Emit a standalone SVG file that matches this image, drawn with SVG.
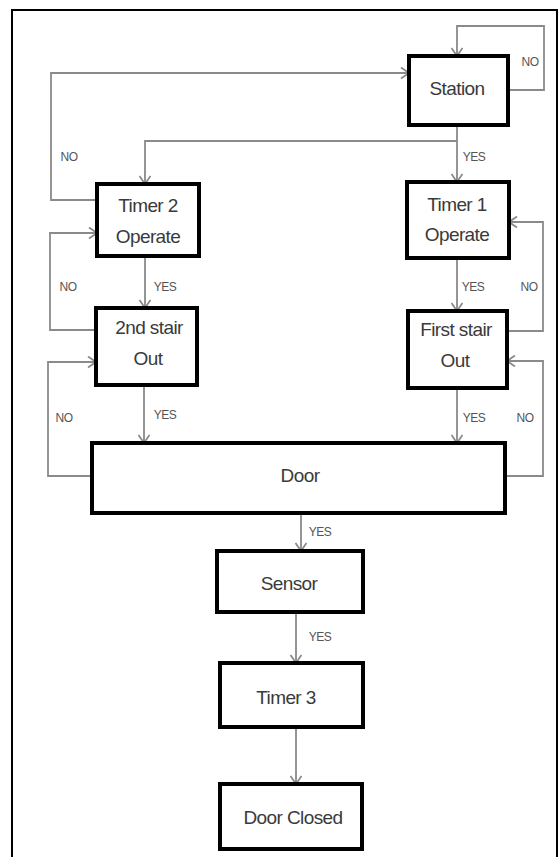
<svg xmlns="http://www.w3.org/2000/svg" width="560" height="857" viewBox="0 0 560 857">
<style>
.box{fill:#ffffff;stroke:#000;stroke-width:4}
.t{font-family:"Liberation Sans",Arial,sans-serif;font-size:19px;fill:#3a3a3a;text-anchor:middle;dominant-baseline:central;letter-spacing:-0.6px}
.l{font-family:"Liberation Sans",Arial,sans-serif;font-size:12px;fill:#555;text-anchor:middle;dominant-baseline:central;letter-spacing:-0.5px}
.c{fill:none;stroke:#8a8a8a;stroke-width:1.8}
.a{marker-end:url(#arr)}
</style>
<defs>
<marker id="arr" markerUnits="userSpaceOnUse" markerWidth="14" markerHeight="14" refX="9" refY="6" orient="auto">
<path d="M1,0.5 L9,6 L1,11.5" fill="none" stroke="#8a8a8a" stroke-width="1.8"/>
</marker>
</defs>
<rect x="12" y="10" width="545" height="870" fill="#fff" stroke="#000" stroke-width="2"/>
<g id="connectors">
<polyline class="c a" points="508,90 544,90 544,26 457,26 457,56"/>
<polyline class="c a" points="97,200 51,200 51,73 409,73"/>
<polyline class="c a" points="457,125 457,182"/>
<polyline class="c a" points="457,141 145,141 145,184"/>
<polyline class="c a" points="145,256 145,308"/>
<polyline class="c a" points="96,330 50,330 50,233 97,233"/>
<polyline class="c a" points="457,258 457,311"/>
<polyline class="c a" points="507,331 543,331 543,222 509,222"/>
<polyline class="c a" points="144,385 144,443"/>
<polyline class="c a" points="457,388 457,443"/>
<polyline class="c a" points="92,476 48,476 48,362 96,362"/>
<polyline class="c a" points="505,476 543,476 543,361 507,361"/>
<polyline class="c a" points="301,513 301,551"/>
<polyline class="c a" points="296,612 296,663"/>
<polyline class="c a" points="296,727 296,784"/>
<text class="l" x="530" y="62">NO</text>
<text class="l" x="69" y="157">NO</text>
<text class="l" x="474" y="157">YES</text>
<text class="l" x="165" y="287">YES</text>
<text class="l" x="68" y="287">NO</text>
<text class="l" x="473" y="287">YES</text>
<text class="l" x="529" y="287">NO</text>
<text class="l" x="165" y="415">YES</text>
<text class="l" x="64" y="418">NO</text>
<text class="l" x="474" y="418">YES</text>
<text class="l" x="525" y="418">NO</text>
<text class="l" x="320" y="532">YES</text>
<text class="l" x="320" y="637">YES</text>
</g>
<g id="station"><rect class="box" x="409" y="56" width="99" height="69"/><text class="t" x="457" y="88">Station</text></g>
<g id="timer2"><rect class="box" x="97" y="184" width="102" height="72"/><text class="t" x="148" y="205">Timer 2</text><text class="t" x="148" y="236">Operate</text></g>
<g id="timer1"><rect class="box" x="407" y="182" width="102" height="76"/><text class="t" x="457" y="204">Timer 1</text><text class="t" x="457" y="234">Operate</text></g>
<g id="stair2"><rect class="box" x="96" y="308" width="101" height="77"/><text class="t" x="149" y="327">2nd stair</text><text class="t" x="148" y="358">Out</text></g>
<g id="stair1"><rect class="box" x="408" y="311" width="99" height="77"/><text class="t" x="456" y="329">First stair</text><text class="t" x="455" y="360">Out</text></g>
<g id="door"><rect class="box" x="92" y="443" width="413" height="70"/><text class="t" x="300" y="475">Door</text></g>
<g id="sensor"><rect class="box" x="217" y="551" width="146" height="61"/><text class="t" x="289" y="583">Sensor</text></g>
<g id="timer3"><rect class="box" x="220" y="663" width="143" height="64"/><text class="t" x="286" y="697">Timer 3</text></g>
<g id="doorclosed"><rect class="box" x="220" y="784" width="142" height="65"/><text class="t" x="293" y="817">Door Closed</text></g>
</svg>
